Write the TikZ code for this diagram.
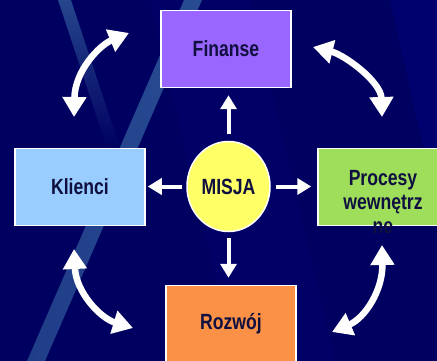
\documentclass[tikz,border=0pt]{standalone}
\usepackage{fontspec}
\newfontfamily\lblfont[FakeStretch=0.8]{Liberation Sans}
\usetikzlibrary{arrows.meta,shapes.geometric}

\definecolor{bgnavy}{RGB}{0,0,96}
\definecolor{bgnavylight}{RGB}{0,0,110}
\definecolor{bgband}{RGB}{0,0,102}
\definecolor{stripeblue}{RGB}{40,76,146}
\definecolor{stripepale}{RGB}{38,70,140}
\definecolor{inkblue}{RGB}{16,16,64}
\definecolor{finfill}{RGB}{153,102,255}
\definecolor{klifill}{RGB}{153,204,255}
\definecolor{profill}{RGB}{158,222,90}
\definecolor{rozfill}{RGB}{250,145,70}
\definecolor{misfill}{RGB}{255,255,102}

\begin{document}
\begin{tikzpicture}[x=1pt,y=-1pt,
  box/.style={draw=white, line width=1.5pt, minimum width=130pt, minimum height=77pt,
              inner sep=0pt, text=inkblue, font=\lblfont\bfseries\fontsize{22}{24}\selectfont},
  lbl/.style={inner sep=0pt, text=inkblue, align=center,
              font=\lblfont\bfseries\fontsize{22}{24}\selectfont},
  sarr/.style={draw=white, line width=4pt, -{Triangle[length=14pt,width=16pt]}},
  carr/.style={draw=white, line width=6.5pt,
               {Triangle[length=20pt,width=23pt]}-{Triangle[length=20pt,width=23pt]}}
]
\useasboundingbox (0,0) rectangle (437,361);
\clip (0,0) rectangle (437,361);

% background and diagonal streaks
\fill[bgnavy] (0,0) rectangle (437,361);
\fill[bgband] (150,0) -- (250,0) -- (335,361) -- (235,361) -- cycle;
\fill[bgnavylight] (390,0) -- (437,0) -- (437,208) -- cycle;
\shade[top color=stripepale, bottom color=bgnavy] (58,0) -- (71,0) -- (120,148) -- (107,148) -- cycle;
\shade[left color=stripeblue!80!bgnavy, right color=stripeblue] (184,0) -- (202,0) -- (45,361) -- (27,361) -- cycle;

% perspective boxes
\node[box, fill=finfill] (finanse) at (226,49) {Finanse};
\node[box, fill=klifill] (klienci) at (80,187) {Klienci};
\node[box, fill=profill] (procesy) at (383,187) {};
\node[lbl, anchor=north] (procesytxt) at (383,170) {Procesy\\wewnętrz\\ne};
\node[box, fill=rozfill] (rozwoj) at (231,324) {Rozwój};

% mission in the centre
\node[ellipse, draw=white, line width=1.5pt, fill=misfill, minimum width=83pt,
      minimum height=90pt, inner sep=0pt, text=inkblue,
      font=\lblfont\bfseries\fontsize{22}{24}\selectfont] (misja) at (228.5,186.5) {MISJA};

% arrows from the mission to each perspective
\draw[sarr, shorten <=6.5pt, shorten >=7pt] (misja.north) -- (misja.north |- finanse.south);
\draw[sarr, shorten <=4pt, shorten >=2pt] (misja.west) -- (misja.west -| klienci.east);
\draw[sarr, shorten <=5pt, shorten >=6pt] (misja.east) -- (misja.east -| procesy.west);
\draw[sarr, shorten <=5.5pt, shorten >=7pt] (misja.south) -- (misja.south |- rozwoj.north);

% end points of the curved links between perspectives
\coordinate (tla) at (74,117);
\coordinate (tlb) at (129,33);
\coordinate (tra) at (313,47);
\coordinate (trb) at (382,117);
\coordinate (bla) at (74,249);
\coordinate (blb) at (133,328);
\coordinate (bra) at (382,245);
\coordinate (brb) at (332,332);

\draw[carr] (tla) .. controls (75,70) and (100,45) .. (tlb);
\draw[carr] (tra) .. controls (345,55) and (381,82) .. (trb);
\draw[carr] (bla) .. controls (76,292) and (100,318) .. (blb);
\draw[carr] (bra) .. controls (383,290) and (365,318) .. (brb);
\end{tikzpicture}
\end{document}
